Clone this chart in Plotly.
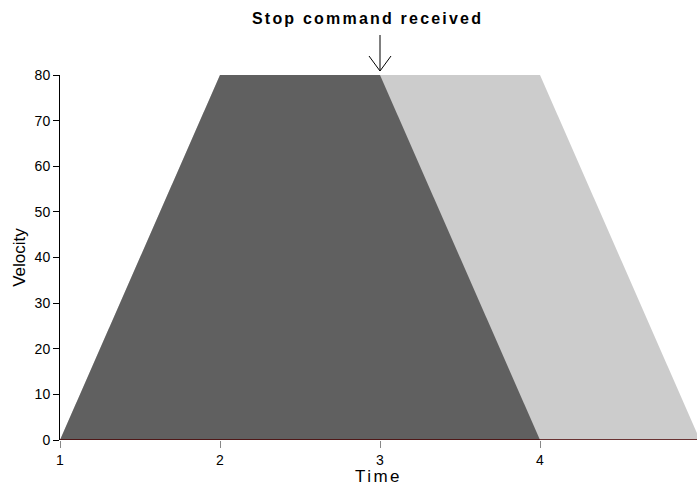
import plotly.graph_objects as go

# Data
full_time = [1, 2, 4, 5]          # planned profile (no stop)
full_vel = [0, 80, 80, 0]
stop_time = [1, 2, 3, 4]          # actual profile after stop command
stop_vel = [0, 80, 80, 0]
stop_command_time = 3
x_ticks = [1, 2, 3, 4]
y_ticks = [0, 10, 20, 30, 40, 50, 60, 70, 80]

W, H = 697, 486
ml, mr, mt, mb = 60, 0, 75, 46
x0, x1 = 1, 1 + (W - ml - mr) / 160.0
y0, y1 = 0, 80

fig = go.Figure()
fig.add_trace(go.Scatter(x=full_time, y=full_vel, fill="toself", mode="lines",
                         fillcolor="#cccccc", line=dict(width=0), hoverinfo="skip"))
fig.add_trace(go.Scatter(x=stop_time, y=stop_vel, fill="toself", mode="lines",
                         fillcolor="#606060", line=dict(width=0), hoverinfo="skip"))
# baseline
fig.add_trace(go.Scatter(x=[x0, x1], y=[0, 0], mode="lines",
                         line=dict(color="#4a0000", width=1.5), hoverinfo="skip"))

# arrow in paper coordinates derived from data
px = (stop_command_time - x0) / (x1 - x0)
plot_h = H - mt - mb
plot_w = W - ml - mr
def ypix_to_paper(ypix):
    return (H - mb - ypix) / plot_h
tip = ypix_to_paper(71)
top = ypix_to_paper(35)
head = 15 / plot_h
hw = 11 / plot_w
for (xa, ya, xb, yb) in [(px, top, px, tip), (px - hw, tip + head, px, tip), (px + hw, tip + head, px, tip)]:
    fig.add_shape(type="line", xref="paper", yref="paper", x0=xa, y0=ya, x1=xb, y1=yb,
                  line=dict(color="black", width=1))

fig.add_annotation(text="<b>Stop command received</b>", xref="paper", yref="paper",
                   x=(367 - ml) / plot_w, y=ypix_to_paper(19), showarrow=False,
                   xanchor="center", yanchor="middle",
                   font=dict(family="Liberation Sans", size=16, color="black"))

fig.update_layout(
    width=W, height=H, margin=dict(l=ml, r=mr, t=mt, b=mb),
    plot_bgcolor="white", paper_bgcolor="white", showlegend=False,
    font=dict(family="Liberation Sans", size=14, color="black"),
    xaxis=dict(range=[x0, x1], tickvals=x_ticks, ticks="outside", ticklen=7, tickcolor="#888888",
               showgrid=False, zeroline=False, showline=False, title=dict(text="Time", standoff=2),
               tickfont=dict(size=14)),
    yaxis=dict(range=[y0, y1], tickvals=y_ticks, ticks="outside", ticklen=6, tickcolor="black",
               showgrid=False, zeroline=False, showline=True, linecolor="black", linewidth=1,
               title=dict(text="Velocity", standoff=4), tickfont=dict(size=14)),
)
fig.write_html("out.html", config={"displayModeBar": False})

with open("out.html", "r", encoding="utf-8") as f:
    html = f.read()
style = ('<style>text.annotation-text{letter-spacing:2.2px}'
         ' text.xtitle{letter-spacing:2.5px}</style>')
html = html.replace("<body>", style + '<body style="margin:0;overflow:hidden">', 1)
with open("out.html", "w", encoding="utf-8") as f:
    f.write(html)
